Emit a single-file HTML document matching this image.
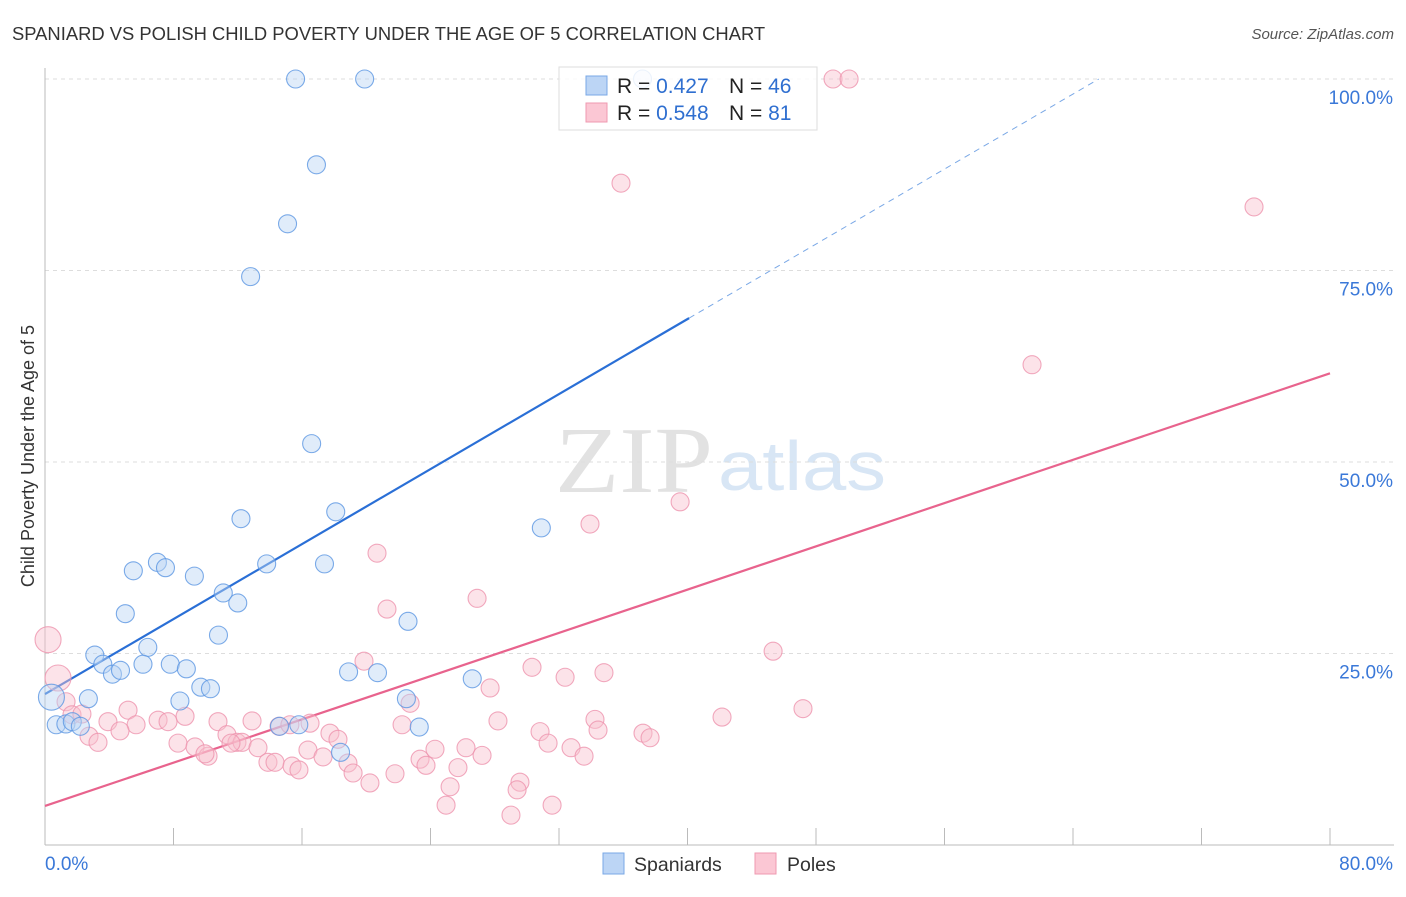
<!DOCTYPE html>
<html><head><meta charset="utf-8"><style>
body{margin:0;background:#fff;font-family:"Liberation Sans",sans-serif}
svg text{font-family:"Liberation Sans",sans-serif}
</style></head><body>
<svg id="chart" width="1406" height="892" xmlns="http://www.w3.org/2000/svg">
<text x="12" y="40" font-size="18.4" fill="#333">SPANIARD VS POLISH CHILD POVERTY UNDER THE AGE OF 5 CORRELATION CHART</text>
<text x="1394" y="39" font-size="15" fill="#555" font-style="italic" text-anchor="end">Source: ZipAtlas.com</text>
<text x="713" y="492" font-size="94" fill="#e2e2e2" style="font-family:'Liberation Serif',serif" text-anchor="end" textLength="158" lengthAdjust="spacingAndGlyphs">ZIP</text>
<text x="718" y="490" font-size="70" fill="#d8e6f5" textLength="168" lengthAdjust="spacingAndGlyphs">atlas</text>
<text transform="translate(34,456) rotate(-90)" font-size="18" fill="#333" text-anchor="middle">Child Poverty Under the Age of 5</text>
<g id="grid"></g><g id="axes"></g><g id="lines"></g><g id="pts"></g>
<g>
<rect x="559" y="67" width="258" height="63" fill="#fff" fill-opacity="0.85" stroke="#ddd"/>
<rect x="586" y="76" width="21" height="19" fill="#bcd5f5" stroke="#7aa8e6"/>
<rect x="586" y="103" width="21" height="19" fill="#fbc7d4" stroke="#ef9ab0"/>
<text x="617" y="93" font-size="21" fill="#222">R = <tspan fill="#2f6fd0">0.427</tspan></text>
<text x="729" y="93" font-size="21" fill="#222">N = <tspan fill="#2f6fd0">46</tspan></text>
<text x="617" y="120" font-size="21" fill="#222">R = <tspan fill="#2f6fd0">0.548</tspan></text>
<text x="729" y="120" font-size="21" fill="#222">N = <tspan fill="#2f6fd0"> 81</tspan></text>
</g>
<g>
<rect x="603" y="853" width="21" height="21" fill="#bcd5f5" stroke="#7aa8e6"/>
<text x="634" y="871" font-size="19.5" fill="#333">Spaniards</text>
<rect x="755" y="853" width="21" height="21" fill="#fbc7d4" stroke="#ef9ab0"/>
<text x="787" y="871" font-size="19.5" fill="#333">Poles</text>
</g>
</svg>
<script>
const xTicks=[0,8,16,24,32,40,48,56,64,72,80];
const yTicks=[25,50,75,100];
const yTickLabels=["25.0%","50.0%","75.0%","100.0%"];
const xEndLabels=["0.0%","80.0%"];
const spanX=[15.6,19.9,16.9,15.1,12.8,16.6,18.1,12.2,30.9,7.0,7.5,5.5,13.8,17.4,9.3,11.1,12.0,5.0,22.6,10.8,6.4,3.1,3.6,6.1,7.8,8.8,4.2,4.7,18.9,20.7,26.6,9.7,10.3,2.7,8.4,22.5,0.7,1.3,1.7,2.2,14.6,15.8,23.3,18.4,0.4,37.2];
const spanY=[100,100,88.8,81.1,74.2,52.4,43.5,42.6,41.4,36.9,36.2,35.8,36.7,36.7,35.1,32.9,31.6,30.2,29.2,27.4,25.8,24.8,23.6,23.6,23.6,23.0,22.3,22.8,22.6,22.5,21.7,20.6,20.4,19.1,18.8,19.1,15.7,15.8,16.1,15.5,15.5,15.7,15.4,12.1,19.3,100];
const polesX=[49.06,50.06,35.86,75.27,61.45,39.54,33.93,20.67,26.90,21.29,45.33,19.86,30.32,32.38,34.80,27.71,22.73,47.19,42.15,34.24,28.20,0.19,0.81,1.31,1.68,2.30,3.92,5.17,5.67,7.04,7.66,8.72,10.77,12.89,14.57,16.50,22.23,30.82,37.23,37.67,2.74,3.30,4.67,8.28,9.34,10.15,9.96,11.33,11.95,12.27,13.26,13.88,14.32,15.38,15.81,16.37,17.31,17.74,18.24,18.86,19.18,20.23,21.79,23.35,23.72,24.28,25.71,26.21,27.21,25.22,24.97,29.57,29.39,29.01,31.57,31.32,32.75,33.56,34.43,15.25,11.58];
const polesY=[100,100,86.4,83.3,62.7,44.8,41.9,38.1,32.2,30.8,25.3,24.0,23.2,21.9,22.5,20.5,18.5,17.8,16.7,16.4,16.2,26.8,21.8,18.7,17.0,17.1,16.1,17.6,15.7,16.3,16.1,16.8,16.1,16.2,15.5,15.9,15.7,14.8,14.6,14.0,14.2,13.4,14.9,13.3,12.8,11.6,11.9,14.4,13.4,13.4,12.7,10.8,10.8,10.3,9.8,12.4,11.5,14.6,13.8,10.7,9.4,8.1,9.3,11.2,10.4,12.5,10.1,12.7,11.7,7.6,5.2,8.2,7.2,3.9,5.2,13.3,12.7,11.6,15.0,15.7,13.3];
const spanTrend=[19.7,1.224];
const polesTrend=[5.1,0.706];
const X=v=>45+v*1285/80, Y=v=>845-v*7.66;
const NS="http://www.w3.org/2000/svg";
function mk(tag,attrs,parent){const e=document.createElementNS(NS,tag);for(const k in attrs)e.setAttribute(k,attrs[k]);document.getElementById(parent).appendChild(e);return e;}
yTicks.forEach((t,i)=>{
 const g=mk('line',{x1:45,x2:1394,y1:Y(t),y2:Y(t),stroke:'#ddd','stroke-dasharray':'4,4'},'grid');
 
 
 const tx=mk('text',{x:1393,y:Y(t)+25,'font-size':19,fill:'#3a78d8','text-anchor':'end'},'grid');tx.textContent=yTickLabels[i];
 
 
});
const ax=mk('line',{x1:45,x2:45,y1:68,y2:845,stroke:'#bbb'},'axes');


const bx=mk('line',{x1:45,x2:1394,y1:845,y2:845,stroke:'#bbb'},'axes');


xTicks.forEach(t=>{const l=mk('line',{x1:X(t),x2:X(t),y1:828,y2:845,stroke:'#bbb'},'axes');
 
 });
[[0,'start'],[80,'end']].forEach((p,i)=>{const t=mk('text',{x:i?1393:45,y:870,'font-size':19,fill:'#3a78d8','text-anchor':p[1]},'axes');t.textContent=xEndLabels[i];
 
 });
function draw(xs,ys,fill,stroke,name){xs.forEach((x,i)=>{const big=x<1&&ys[i]>17&&ys[i]<28;
 const c=mk('circle',{cx:X(x),cy:Y(ys[i]),r:big?13:9,fill:fill,'fill-opacity':0.45,stroke:stroke,'stroke-opacity':0.8,'stroke-width':1.1},'pts');
 
 });}
draw(polesX,polesY,'#f9c0cf','#ee94ae','poles-point');
draw(spanX,spanY,'#bad4f4','#5b96e2','spaniards-point');
const xEnd=40.1, xTop=(100-spanTrend[0])/spanTrend[1];
const l1=mk('line',{x1:X(0),y1:Y(spanTrend[0]),x2:X(xEnd),y2:Y(spanTrend[0]+spanTrend[1]*xEnd),stroke:'#2a6fd6','stroke-width':2.2},'lines');


const l2=mk('line',{x1:X(xEnd),y1:Y(spanTrend[0]+spanTrend[1]*xEnd),x2:X(xTop),y2:Y(100),stroke:'#7aa8e6','stroke-width':1,'stroke-dasharray':'6,5'},'lines');


const l3=mk('line',{x1:X(0),y1:Y(polesTrend[0]),x2:X(80),y2:Y(polesTrend[0]+polesTrend[1]*80),stroke:'#e8638d','stroke-width':2.2},'lines');


</script>
</body></html>
